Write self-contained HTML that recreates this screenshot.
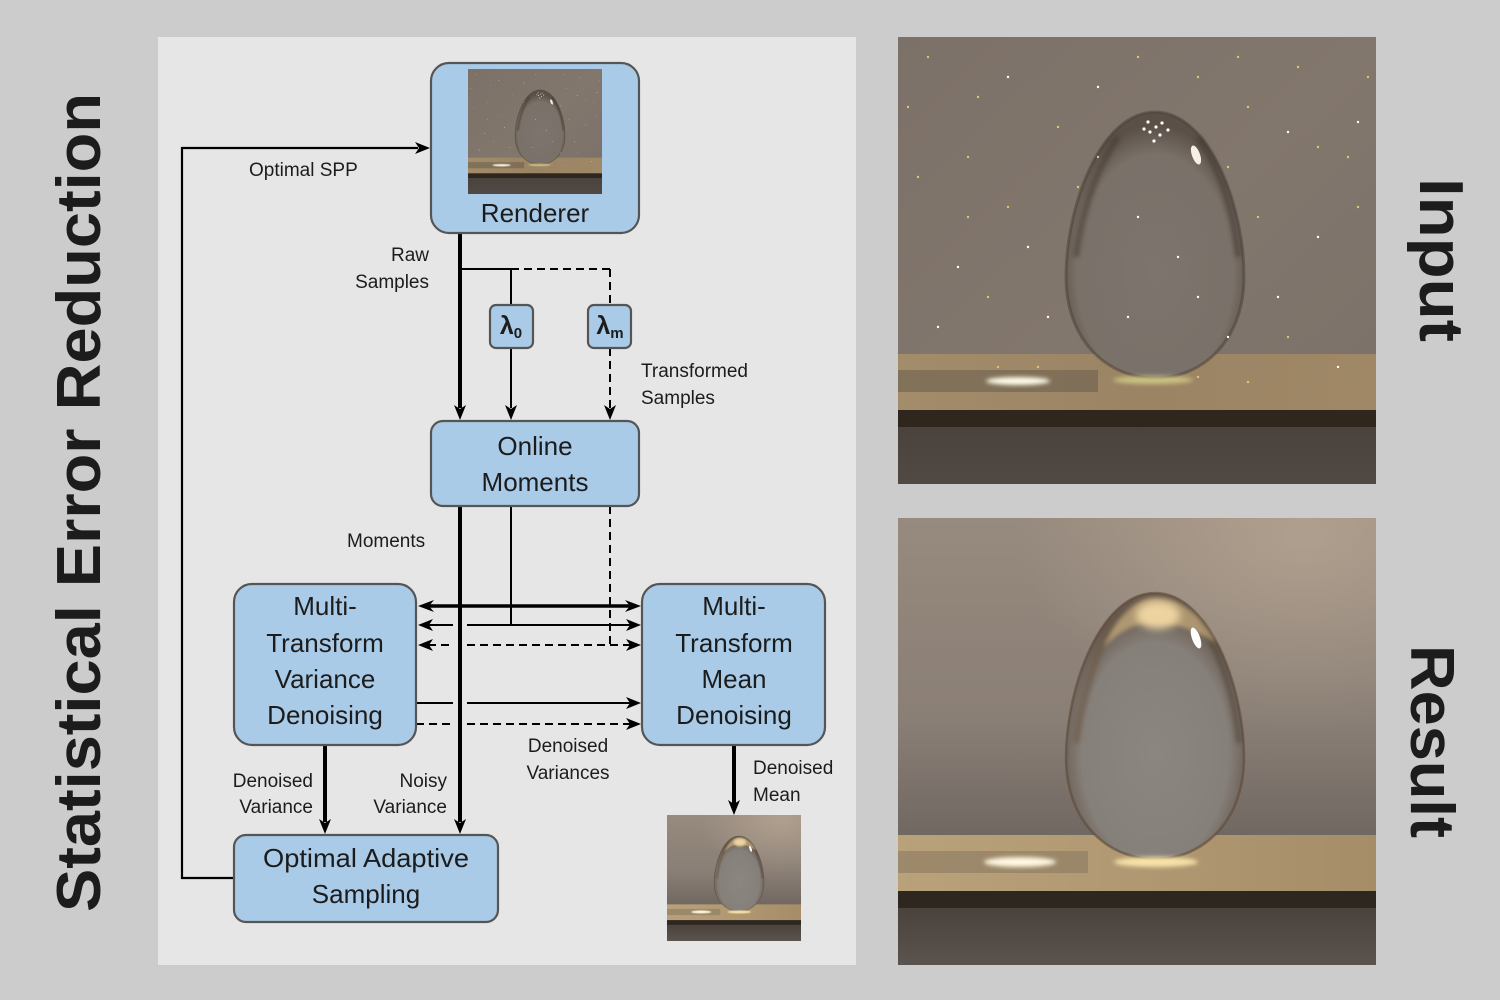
<!DOCTYPE html>
<html><head><meta charset="utf-8"><style>
html,body{margin:0;padding:0;background:#cccccc;}
svg{display:block;}
text{font-family:"Liberation Sans",sans-serif;fill:#1c1c1c;}
</style></head><body>
<svg width="1500" height="1000" viewBox="0 0 1500 1000" xmlns="http://www.w3.org/2000/svg">
<defs>
  <filter id="soft" x="-50%" y="-50%" width="200%" height="200%"><feGaussianBlur stdDeviation="4"/></filter>
  <filter id="soft2" x="-50%" y="-50%" width="200%" height="200%"><feGaussianBlur stdDeviation="2"/></filter>
  <linearGradient id="bgN" x1="0" y1="0" x2="1" y2="1">
    <stop offset="0" stop-color="#7c7168"/>
    <stop offset="0.5" stop-color="#82776d"/>
    <stop offset="1" stop-color="#7a7068"/>
  </linearGradient>
  <linearGradient id="bgC" x1="0" y1="0" x2="0" y2="1">
    <stop offset="0" stop-color="#978a7e"/>
    <stop offset="0.45" stop-color="#8a7f76"/>
    <stop offset="0.72" stop-color="#6f6761"/>
  </linearGradient>
  <radialGradient id="hiC" cx="0.85" cy="0.05" r="0.6">
    <stop offset="0" stop-color="#b4a391" stop-opacity="0.85"/>
    <stop offset="1" stop-color="#b4a391" stop-opacity="0"/>
  </radialGradient>
  <linearGradient id="tableN" x1="0" y1="0" x2="1" y2="0">
    <stop offset="0" stop-color="#a28c6a"/>
    <stop offset="0.5" stop-color="#9a8464"/>
    <stop offset="1" stop-color="#a08866"/>
  </linearGradient>
  <linearGradient id="tableC" x1="0" y1="0" x2="1" y2="0">
    <stop offset="0" stop-color="#b9a17a"/>
    <stop offset="0.5" stop-color="#b09872"/>
    <stop offset="1" stop-color="#a58d68"/>
  </linearGradient>
  <linearGradient id="botN" x1="0" y1="0" x2="0" y2="1">
    <stop offset="0" stop-color="#4a423c"/>
    <stop offset="1" stop-color="#514943"/>
  </linearGradient>
  <linearGradient id="botC" x1="0" y1="0" x2="0" y2="1">
    <stop offset="0" stop-color="#4a423c"/>
    <stop offset="1" stop-color="#5b534d"/>
  </linearGradient>
  <radialGradient id="eggN" cx="0.5" cy="0.6" r="0.55">
    <stop offset="0" stop-color="#7c746d"/>
    <stop offset="0.8" stop-color="#7a7169"/>
    <stop offset="1" stop-color="#5a5048"/>
  </radialGradient>
  <radialGradient id="eggC" cx="0.5" cy="0.6" r="0.55">
    <stop offset="0" stop-color="#8c8680"/>
    <stop offset="0.75" stop-color="#86807a"/>
    <stop offset="1" stop-color="#66584c"/>
  </radialGradient>

  <symbol id="sceneN" viewBox="0 0 478 447" preserveAspectRatio="none">
    <rect width="478" height="447" fill="url(#bgN)"/>
    <rect y="317" width="478" height="56" fill="url(#tableN)"/>
    <rect y="333" width="200" height="22" fill="#6d604e" opacity="0.6"/>
    <rect y="373" width="478" height="17" fill="#2f271e"/>
    <rect y="390" width="478" height="57" fill="url(#botN)"/>
    <ellipse cx="120" cy="344" rx="32" ry="4" fill="#fffbe8" filter="url(#soft2)"/>
    <path d="M257,75 C312,75 346,170 346,240 C346,302 306,341 257,341 C208,341 168,302 168,240 C168,170 202,75 257,75Z" fill="url(#eggN)" stroke="#4a4037" stroke-width="3" stroke-opacity="0.5"/>
    <path d="M220,100 C200,130 185,170 178,220" stroke="#3f352d" stroke-width="6" fill="none" opacity="0.5" filter="url(#soft2)"/>
    <path d="M300,100 C320,130 335,170 340,220" stroke="#3f352d" stroke-width="6" fill="none" opacity="0.5" filter="url(#soft2)"/>
    <ellipse cx="298" cy="118" rx="4" ry="10" fill="#f4f0e8" transform="rotate(-20 298 118)"/>
    <ellipse cx="255" cy="343" rx="40" ry="4" fill="#d8d08a" opacity="0.8" filter="url(#soft2)"/>
    <g fill="#ffffff">
      <circle cx="250" cy="85" r="1.6"/><circle cx="258" cy="90" r="1.6"/><circle cx="264" cy="86" r="1.6"/><circle cx="252" cy="95" r="1.6"/><circle cx="262" cy="98" r="1.6"/><circle cx="270" cy="93" r="1.6"/><circle cx="246" cy="92" r="1.6"/><circle cx="256" cy="104" r="1.6"/>
      <circle cx="110" cy="40" r="1.2"/><circle cx="200" cy="50" r="1.2"/><circle cx="390" cy="95" r="1.2"/><circle cx="60" cy="230" r="1.2"/><circle cx="130" cy="210" r="1.2"/><circle cx="150" cy="280" r="1.2"/><circle cx="420" cy="200" r="1.2"/><circle cx="380" cy="260" r="1.2"/><circle cx="440" cy="330" r="1.2"/><circle cx="240" cy="180" r="1.2"/><circle cx="280" cy="220" r="1.2"/><circle cx="300" cy="260" r="1.2"/><circle cx="230" cy="280" r="1.2"/><circle cx="40" cy="290" r="1.2"/><circle cx="460" cy="85" r="1.2"/><circle cx="330" cy="300" r="1.2"/>
    </g>
    <g fill="#e6c078">
      <circle cx="30" cy="20" r="1.2"/><circle cx="80" cy="60" r="1.2"/><circle cx="160" cy="90" r="1.2"/><circle cx="240" cy="20" r="1.2"/><circle cx="300" cy="40" r="1.2"/><circle cx="350" cy="70" r="1.2"/><circle cx="400" cy="30" r="1.2"/><circle cx="450" cy="120" r="1.2"/><circle cx="20" cy="140" r="1.2"/><circle cx="70" cy="120" r="1.2"/><circle cx="110" cy="170" r="1.2"/><circle cx="90" cy="260" r="1.2"/><circle cx="180" cy="150" r="1.2"/><circle cx="360" cy="180" r="1.2"/><circle cx="420" cy="110" r="1.2"/><circle cx="330" cy="130" r="1.2"/><circle cx="390" cy="300" r="1.2"/><circle cx="100" cy="330" r="1.2"/><circle cx="70" cy="180" r="1.2"/><circle cx="10" cy="70" r="1.2"/><circle cx="470" cy="40" r="1.2"/><circle cx="340" cy="20" r="1.2"/><circle cx="460" cy="170" r="1.2"/><circle cx="200" cy="120" r="1.2"/><circle cx="140" cy="330" r="1.2"/><circle cx="300" cy="340" r="1.2"/><circle cx="350" cy="345" r="1.2"/>
    </g>
  </symbol>

  <symbol id="sceneC" viewBox="0 0 478 447" preserveAspectRatio="none">
    <rect width="478" height="447" fill="url(#bgC)"/>
    <rect width="478" height="320" fill="url(#hiC)"/>
    <rect y="317" width="478" height="56" fill="url(#tableC)"/>
    <rect y="333" width="190" height="22" fill="#8a7a60" opacity="0.6"/>
    <rect y="373" width="478" height="17" fill="#2e271f"/>
    <rect y="390" width="478" height="57" fill="url(#botC)"/>
    <ellipse cx="122" cy="344" rx="36" ry="5" fill="#fff8e0" filter="url(#soft2)"/>
    <path d="M257,75 C312,75 346,170 346,240 C346,302 306,341 257,341 C208,341 168,302 168,240 C168,170 202,75 257,75Z" fill="url(#eggC)" stroke="#5b4a3a" stroke-width="2.5" stroke-opacity="0.6"/>
    <path d="M215,105 C198,135 185,175 178,225" stroke="#6a5440" stroke-width="7" fill="none" opacity="0.5" filter="url(#soft2)"/>
    <path d="M302,104 C322,135 336,175 341,225" stroke="#4a3d32" stroke-width="6" fill="none" opacity="0.45" filter="url(#soft2)"/>
    <path d="M205,130 C220,95 240,80 257,80 C285,80 305,100 318,125 C295,110 270,104 257,104 C240,104 222,112 205,130Z" fill="#c9ad7e" opacity="0.7" filter="url(#soft2)"/>
    <ellipse cx="260" cy="97" rx="22" ry="14" fill="#ecd3a0" filter="url(#soft)"/>
    <ellipse cx="298" cy="120" rx="4" ry="11" fill="#ffffff" transform="rotate(-20 298 120)"/>
    <ellipse cx="258" cy="344" rx="42" ry="5" fill="#f7e3a8" filter="url(#soft2)"/>
  </symbol>
</defs>

<rect width="1500" height="1000" fill="#cccccc"/>
<rect x="158" y="37" width="698" height="928" fill="#e6e6e6"/>

<!-- right images -->
<use href="#sceneN" x="898" y="37" width="478" height="447"/>
<use href="#sceneC" x="898" y="518" width="478" height="447"/>

<!-- rotated titles -->
<text transform="translate(100,912) rotate(-90)" font-size="62" font-weight="bold" textLength="819" lengthAdjust="spacingAndGlyphs">Statistical Error Reduction</text>
<text transform="translate(1420,178) rotate(90)" font-size="62" font-weight="bold" textLength="164" lengthAdjust="spacingAndGlyphs">Input</text>
<text transform="translate(1411,645) rotate(90)" font-size="62" font-weight="bold" textLength="193" lengthAdjust="spacingAndGlyphs">Result</text>

<!-- connectors -->
<g stroke="#000" fill="none">
  <polyline points="234,878 182,878 182,148 418,148" stroke-width="2.2"/>
  <line x1="460" y1="234" x2="460" y2="408" stroke-width="4"/>
  <line x1="459" y1="269" x2="511" y2="269" stroke-width="2"/>
  <line x1="511" y1="269" x2="610" y2="269" stroke-width="2" stroke-dasharray="8 5"/>
  <line x1="511" y1="269" x2="511" y2="305" stroke-width="2"/>
  <line x1="610" y1="269" x2="610" y2="305" stroke-width="2" stroke-dasharray="8 5"/>
  <line x1="511" y1="348" x2="511" y2="408" stroke-width="2"/>
  <line x1="610" y1="348" x2="610" y2="408" stroke-width="2" stroke-dasharray="8 5"/>
  <line x1="460" y1="506" x2="460" y2="822" stroke-width="4"/>
  <line x1="511" y1="506" x2="511" y2="625" stroke-width="2"/>
  <line x1="610" y1="506" x2="610" y2="645" stroke-width="2" stroke-dasharray="8 5"/>
  <line x1="428" y1="606" x2="630" y2="606" stroke-width="3.5"/>
  <line x1="428" y1="625" x2="453" y2="625" stroke-width="2"/>
  <line x1="467" y1="625" x2="630" y2="625" stroke-width="2"/>
  <line x1="428" y1="645" x2="453" y2="645" stroke-width="2" stroke-dasharray="8 5"/>
  <line x1="467" y1="645" x2="630" y2="645" stroke-width="2" stroke-dasharray="8 5"/>
  <line x1="416" y1="703" x2="453" y2="703" stroke-width="2"/>
  <line x1="467" y1="703" x2="630" y2="703" stroke-width="2"/>
  <line x1="416" y1="724" x2="453" y2="724" stroke-width="2" stroke-dasharray="8 5"/>
  <line x1="467" y1="724" x2="630" y2="724" stroke-width="2" stroke-dasharray="8 5"/>
  <line x1="325" y1="745" x2="325" y2="822" stroke-width="4"/>
  <line x1="734" y1="745" x2="734" y2="804" stroke-width="4"/>
</g>

<!-- arrowheads -->
<g fill="#000">
  <polygon points="430,148 415,142 419,148 415,154"/>
  <polygon points="460,420 454,405 460,409 466,405"/>
  <polygon points="511,420 505,405 511,409 517,405"/>
  <polygon points="610,420 604,405 610,409 616,405"/>
  <polygon points="460,834 454,819 460,823 466,819"/>
  <polygon points="325,834 319,819 325,823 331,819"/>
  <polygon points="734,815 728,800 734,804 740,800"/>
  <polygon points="418,606 434,600 429,606 434,612"/>
  <polygon points="641,606 625,600 630,606 625,612"/>
  <polygon points="418,625 433,619 429,625 433,631"/>
  <polygon points="641,625 626,619 630,625 626,631"/>
  <polygon points="418,645 433,639 429,645 433,651"/>
  <polygon points="641,645 626,639 630,645 626,651"/>
  <polygon points="641,703 626,697 630,703 626,709"/>
  <polygon points="641,724 626,718 630,724 626,730"/>
</g>

<!-- boxes -->
<g fill="#a9cbe7" stroke="#555555" stroke-width="2.2">
  <rect x="431" y="63" width="208" height="170" rx="18"/>
  <rect x="431" y="421" width="208" height="85" rx="12"/>
  <rect x="490" y="305" width="43" height="43" rx="6"/>
  <rect x="588" y="305" width="43" height="43" rx="6"/>
  <rect x="234" y="584" width="182" height="161" rx="18"/>
  <rect x="642" y="584" width="183" height="161" rx="18"/>
  <rect x="234" y="835" width="264" height="87" rx="12"/>
</g>

<!-- thumbnails -->
<use href="#sceneN" x="468" y="69" width="134" height="125"/>
<use href="#sceneC" x="667" y="815" width="134" height="126"/>

<!-- box labels -->
<g font-size="26" text-anchor="middle">
  <text x="535" y="222">Renderer</text>
  <text x="535" y="455">Online</text>
  <text x="535" y="491">Moments</text>
  <text x="325" y="615">Multi-</text>
  <text x="325" y="652">Transform</text>
  <text x="325" y="688">Variance</text>
  <text x="325" y="724">Denoising</text>
  <text x="734" y="615">Multi-</text>
  <text x="734" y="652">Transform</text>
  <text x="734" y="688">Mean</text>
  <text x="734" y="724">Denoising</text>
  <text x="366" y="867" textLength="206" lengthAdjust="spacingAndGlyphs">Optimal Adaptive</text>
  <text x="366" y="903">Sampling</text>
</g>
<text x="511" y="334" font-size="25" font-weight="bold" text-anchor="middle">λ<tspan font-size="15" dy="4">0</tspan></text>
<text x="610" y="334" font-size="25" font-weight="bold" text-anchor="middle">λ<tspan font-size="15" dy="4">m</tspan></text>

<!-- small labels -->
<g font-size="19">
  <text x="249" y="176">Optimal SPP</text>
  <text x="429" y="261" text-anchor="end">Raw</text>
  <text x="429" y="288" text-anchor="end">Samples</text>
  <text x="641" y="377">Transformed</text>
  <text x="641" y="404">Samples</text>
  <text x="347" y="547">Moments</text>
  <text x="313" y="787" text-anchor="end">Denoised</text>
  <text x="313" y="813" text-anchor="end">Variance</text>
  <text x="447" y="787" text-anchor="end">Noisy</text>
  <text x="447" y="813" text-anchor="end">Variance</text>
  <text x="568" y="752" text-anchor="middle">Denoised</text>
  <text x="568" y="779" text-anchor="middle">Variances</text>
  <text x="753" y="774">Denoised</text>
  <text x="753" y="801">Mean</text>
</g>
</svg>
</body></html>
